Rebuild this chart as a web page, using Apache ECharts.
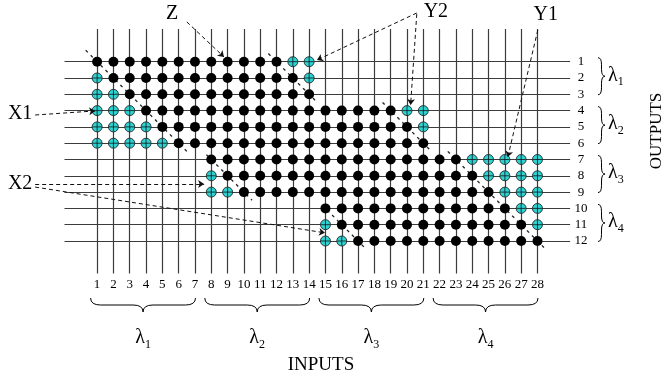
<!DOCTYPE html>
<html>
<head>
<meta charset="utf-8">
<script src="https://cdn.jsdelivr.net/npm/echarts@6/dist/echarts.min.js"></script>
<style>
  html, body { margin: 0; padding: 0; background: #fff; }
  #main { width: 665px; height: 379px; }
</style>
</head>
<body>
<div id="main"></div>
<script>
// crossbar: 28 inputs (columns) x 12 outputs (rows)
const inputLabels = [1, 2, 3, 4, 5, 6, 7, 8, 9, 10, 11, 12, 13, 14,
  15, 16, 17, 18, 19, 20, 21, 22, 23, 24, 25, 26, 27, 28];
const outputLabels = [1, 2, 3, 4, 5, 6, 7, 8, 9, 10, 11, 12];

// one string per output, one char per input: B = black point, C = cyan point, . = none
const crosspoints = [
  "BBBBBBBBBBBBCC..............",
  "CBBBBBBBBBBBBC..............",
  "CCBBBBBBBBBBBB..............",
  "CCCBBBBBBBBBBBBBBBBCC.......",
  "CCCCBBBBBBBBBBBBBBBBC.......",
  "CCCCCBBBBBBBBBBBBBBBB.......",
  ".......BBBBBBBBBBBBBBBBCCCCC",
  ".......CBBBBBBBBBBBBBBBBCCCC",
  ".......CCBBBBBBBBBBBBBBBBCCC",
  "..............BBBBBBBBBBBBCC",
  "..............CBBBBBBBBBBBBC",
  "..............CCBBBBBBBBBBBB"
];

const inputGroups = [[1, 7], [8, 14], [15, 21], [22, 28]];
const outputGroups = [[1, 3], [4, 6], [7, 9], [10, 12]];
const groupNames = ["1", "2", "3", "4"];

// dashed diagonals, [input, output] ends
const dividers = [
  [[0.3, 0.3], [6.6, 6.6]],
  [[11.5, 0.5], [14.5, 3.5]],
  [[7.7, 6.7], [10.5, 9.5]],
  [[18.5, 3.5], [21.4, 6.4]],
  [[14.8, 9.8], [17.4, 12.4]],
  [[22.5, 6.5], [28.5, 12.5]]
];

// callout names, where they sit, and their arrows
const calloutNames = ["Z", "Y2", "Y1", "X1", "X2"];
const calloutPos = [[5.6, -1.93], [21.77, -2.05], [28.51, -1.87], [-3.72, 4.21], [-3.72, 8.5]];
const calloutArrows = [
  [[[6.5, -1.44], [8.78, 0.71]]],
  [[[20.6, -1.99], [14.48, 0.9]], [[20.6, -1.93], [20.22, 3.66]]],
  [[[28.02, -0.94], [26.18, 6.85]]],
  [[[-2.8, 4.27], [0.88, 4.02]]],
  [[[-2.8, 8.51], [7.56, 8.5]], [[-2.8, 8.69], [14.97, 11.5]]]
];

const FONT = '"Liberation Serif", "DejaVu Serif", serif';
const X_MIN = -1, X_MAX = 30, Y_MIN = -1, Y_MAX = 14;

var chart = echarts.init(document.getElementById("main"));

var black = [], cyan = [];
crosspoints.forEach(function (row, i) {
  row.split("").forEach(function (ch, j) {
    if (ch === "B") black.push([inputLabels[j], outputLabels[i]]);
    if (ch === "C") cyan.push([inputLabels[j], outputLabels[i]]);
  });
});

var gridLines = [];
outputLabels.forEach(function (r) {
  gridLines.push({ coords: [[X_MIN, r], [X_MAX, r]] });
});
inputLabels.forEach(function (c) {
  gridLines.push({ coords: [[c, Y_MIN], [c, Y_MAX]] });
});

var arrows = [];
calloutArrows.forEach(function (list) {
  list.forEach(function (a) { arrows.push({ coords: a }); });
});

var option = {
  animation: false,
  backgroundColor: "#fff",
  grid: { left: 64.5, top: 29.1, width: 505.6, height: 244.5 },
  xAxis: {
    type: "value",
    min: X_MIN,
    max: X_MAX,
    interval: 1,
    axisLine: { show: false },
    axisTick: { show: false },
    splitLine: { show: false },
    axisLabel: {
      margin: 4,
      fontSize: 13,
      color: "#000",
      fontFamily: FONT,
      formatter: function (v) { return inputLabels.indexOf(v) >= 0 ? String(v) : ""; }
    }
  },
  yAxis: {
    type: "value",
    position: "right",
    inverse: true,
    min: Y_MIN,
    max: Y_MAX,
    interval: 1,
    axisLine: { show: false },
    axisTick: { show: false },
    splitLine: { show: false },
    axisLabel: {
      margin: 11,
      align: "center",
      fontSize: 13,
      color: "#000",
      fontFamily: FONT,
      formatter: function (v) { return outputLabels.indexOf(v) >= 0 ? String(v) : ""; }
    }
  },
  series: [
    {
      type: "lines",
      coordinateSystem: "cartesian2d",
      silent: true,
      z: 1,
      lineStyle: { color: "#3c3c3c", width: 1.2, opacity: 1 },
      data: gridLines
    },
    {
      type: "lines",
      coordinateSystem: "cartesian2d",
      silent: true,
      z: 2,
      lineStyle: { color: "#222", width: 1.3, type: [3, 4], opacity: 1 },
      data: dividers.map(function (d) { return { coords: d }; })
    },
    {
      type: "scatter",
      z: 3,
      symbolSize: 10,
      itemStyle: { color: "#000", opacity: 1 },
      data: black
    },
    {
      type: "scatter",
      z: 3,
      symbolSize: 10,
      itemStyle: { color: "#2fd2d2", borderColor: "#111", borderWidth: 0.8, opacity: 1 },
      data: cyan
    },
    {
      type: "scatter",
      z: 4,
      symbol: "path://M5,0L5,10M0,5L10,5",
      symbolSize: 9,
      itemStyle: { color: "none", borderColor: "#111", borderWidth: 0.8, opacity: 1 },
      data: cyan
    },
    {
      type: "lines",
      coordinateSystem: "cartesian2d",
      silent: true,
      clip: false,
      z: 5,
      symbol: ["none", "arrow"],
      symbolSize: 6,
      lineStyle: { color: "#111", width: 1, type: [4, 3], opacity: 1 },
      data: arrows
    }
  ]
};
chart.setOption(option);

function px(c, r) { return chart.convertToPixel({ gridIndex: 0 }, [c, r]); }

function lambda(n, x, y, align) {
  return {
    type: "text",
    x: x, y: y,
    style: {
      text: "{l|λ}{s|" + n + "}",
      align: align, verticalAlign: "middle",
      rich: {
        l: { fontSize: 20, lineHeight: 26, fontFamily: FONT, fill: "#000", verticalAlign: "middle" },
        s: { fontSize: 12, lineHeight: 16, fontFamily: FONT, fill: "#000", verticalAlign: "bottom" }
      }
    }
  };
}

// horizontal brace, opening up, tip down
function hBrace(x1, x2, y0, h) {
  var ya = y0 + h * 0.5, yb = y0 + h, xm = (x1 + x2) / 2, q = 10;
  var st = { stroke: "#000", lineWidth: 1, fill: null };
  return [
    { type: "bezierCurve", shape: { x1: x1, y1: y0, cpx1: x1, cpy1: ya, x2: x1 + q, y2: ya }, style: st },
    { type: "line", shape: { x1: x1 + q, y1: ya, x2: xm - q, y2: ya }, style: st },
    { type: "bezierCurve", shape: { x1: xm - q, y1: ya, cpx1: xm, cpy1: ya, x2: xm, y2: yb }, style: st },
    { type: "bezierCurve", shape: { x1: xm, y1: yb, cpx1: xm, cpy1: ya, x2: xm + q, y2: ya }, style: st },
    { type: "line", shape: { x1: xm + q, y1: ya, x2: x2 - q, y2: ya }, style: st },
    { type: "bezierCurve", shape: { x1: x2 - q, y1: ya, cpx1: x2, cpy1: ya, x2: x2, y2: y0 }, style: st }
  ];
}

// vertical brace "}", tip right
function vBrace(x0, y1, y2, w) {
  var xa = x0 + w * 0.5, xb = x0 + w, ym = (y1 + y2) / 2, q = 7;
  var st = { stroke: "#000", lineWidth: 1, fill: null };
  return [
    { type: "bezierCurve", shape: { x1: x0, y1: y1, cpx1: xa, cpy1: y1, x2: xa, y2: y1 + q }, style: st },
    { type: "line", shape: { x1: xa, y1: y1 + q, x2: xa, y2: ym - q }, style: st },
    { type: "bezierCurve", shape: { x1: xa, y1: ym - q, cpx1: xa, cpy1: ym, x2: xb, y2: ym }, style: st },
    { type: "bezierCurve", shape: { x1: xb, y1: ym, cpx1: xa, cpy1: ym, x2: xa, y2: ym + q }, style: st },
    { type: "line", shape: { x1: xa, y1: ym + q, x2: xa, y2: y2 - q }, style: st },
    { type: "bezierCurve", shape: { x1: xa, y1: y2 - q, cpx1: xa, cpy1: y2, x2: x0, y2: y2 }, style: st }
  ];
}

var elements = [];

calloutNames.forEach(function (name, i) {
  var p = px(calloutPos[i][0], calloutPos[i][1]);
  elements.push({
    type: "text", x: p[0], y: p[1],
    style: { text: name, fontSize: 20, fontFamily: FONT, fill: "#000", align: "center", verticalAlign: "middle" }
  });
});

inputGroups.forEach(function (g, i) {
  var a = px(g[0], 0)[0] - 6.5, b = px(g[1], 0)[0] + 0.5;
  elements = elements.concat(hBrace(a, b, 298, 14));
  elements.push(lambda(groupNames[i], (a + b) / 2, 338, "center"));
});

outputGroups.forEach(function (g, i) {
  var a = px(0, g[0])[1] - 4, b = px(0, g[1])[1] + 0.5;
  elements = elements.concat(vBrace(598, a, b, 7));
  elements.push(lambda(groupNames[i], 608, (a + b) / 2 - 1, "left"));
});

elements.push({
  type: "text", x: 321, y: 365,
  style: { text: "INPUTS", fontSize: 19, fontFamily: FONT, fill: "#000", align: "center", verticalAlign: "middle" }
});
elements.push({
  type: "text", x: 657, y: 131, rotation: Math.PI / 2,
  style: { text: "OUTPUTS", fontSize: 17, fontFamily: FONT, fill: "#000", align: "center", verticalAlign: "middle" }
});

chart.setOption({ graphic: { elements: elements } });
</script>
</body>
</html>
